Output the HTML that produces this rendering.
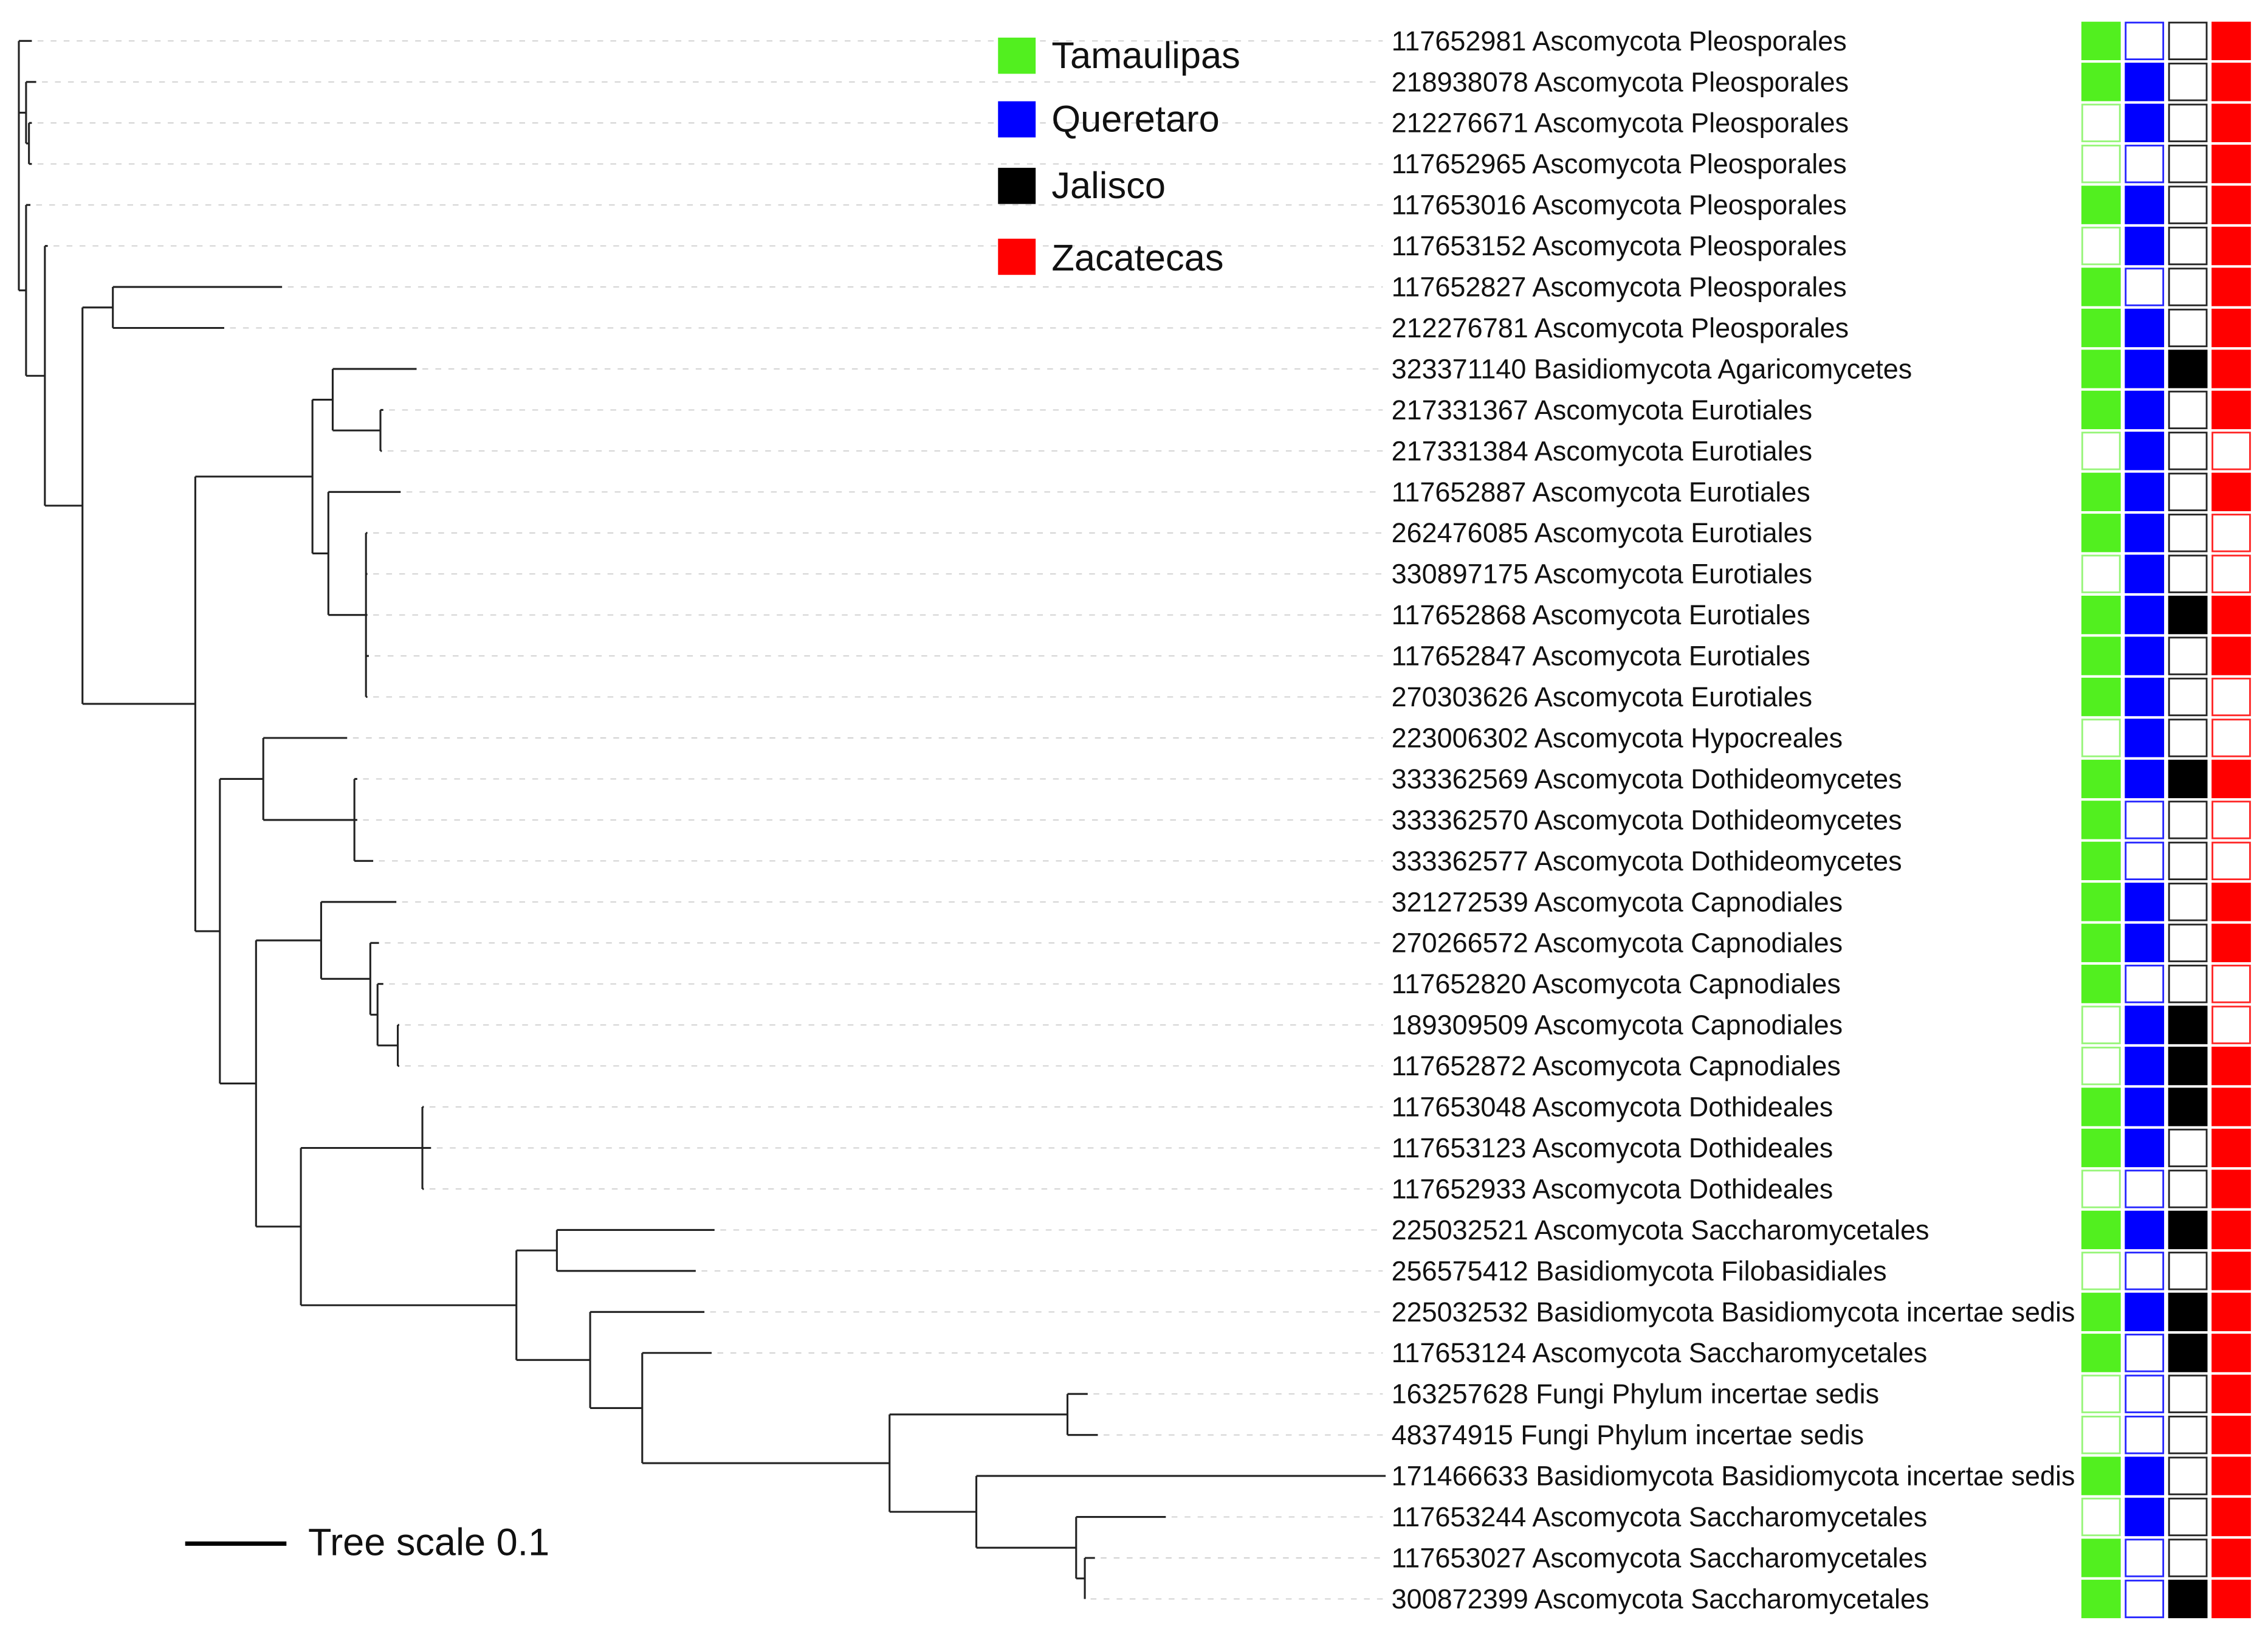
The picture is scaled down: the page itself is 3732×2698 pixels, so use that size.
<!DOCTYPE html>
<html><head><meta charset="utf-8"><style>
html,body{margin:0;padding:0;background:#fff}
svg{display:block}
text{font-family:"Liberation Sans","DejaVu Sans",sans-serif;fill:#111}
</style></head><body>
<svg id="chart" width="3732" height="2698" viewBox="0 0 1568 1133.6" xmlns="http://www.w3.org/2000/svg">
<g id="tree"></g>
<g id="guides"></g>
<g id="labels"></g>
<g id="boxes"></g>
<g>
 <rect x="690" y="26" width="26" height="25" fill="#52ef1f"/>
 <text x="727" y="47" font-size="25.8">Tamaulipas</text>
 <rect x="690" y="70" width="26" height="25" fill="#0000ff"/>
 <text x="727" y="91" font-size="25.8">Queretaro</text>
 <rect x="690" y="116" width="26" height="25" fill="#000"/>
 <text x="727" y="137" font-size="25.8">Jalisco</text>
 <rect x="690" y="165" width="26" height="25" fill="#ff0000"/>
 <text x="727" y="187" font-size="25.8">Zacatecas</text>
</g>
<g>
 <line x1="128" y1="1067" x2="198" y2="1067" stroke="#000" stroke-width="3"/>
 <text x="213" y="1075" font-size="26.5">Tree scale 0.1</text>
</g>
</svg>
<script>
const labels = [
"117652981 Ascomycota Pleosporales","218938078 Ascomycota Pleosporales","212276671 Ascomycota Pleosporales","117652965 Ascomycota Pleosporales","117653016 Ascomycota Pleosporales","117653152 Ascomycota Pleosporales","117652827 Ascomycota Pleosporales","212276781 Ascomycota Pleosporales","323371140 Basidiomycota Agaricomycetes","217331367 Ascomycota Eurotiales","217331384 Ascomycota Eurotiales","117652887 Ascomycota Eurotiales","262476085 Ascomycota Eurotiales","330897175 Ascomycota Eurotiales","117652868 Ascomycota Eurotiales","117652847 Ascomycota Eurotiales","270303626 Ascomycota Eurotiales","223006302 Ascomycota Hypocreales","333362569 Ascomycota Dothideomycetes","333362570 Ascomycota Dothideomycetes","333362577 Ascomycota Dothideomycetes","321272539 Ascomycota Capnodiales","270266572 Ascomycota Capnodiales","117652820 Ascomycota Capnodiales","189309509 Ascomycota Capnodiales","117652872 Ascomycota Capnodiales","117653048 Ascomycota Dothideales","117653123 Ascomycota Dothideales","117652933 Ascomycota Dothideales","225032521 Ascomycota Saccharomycetales","256575412 Basidiomycota Filobasidiales","225032532 Basidiomycota Basidiomycota incertae sedis","117653124 Ascomycota Saccharomycetales","163257628 Fungi Phylum incertae sedis","48374915 Fungi Phylum incertae sedis","171466633 Basidiomycota Basidiomycota incertae sedis","117653244 Ascomycota Saccharomycetales","117653027 Ascomycota Saccharomycetales","300872399 Ascomycota Saccharomycetales"];
const tamaulipas = [1,1,0,0,1,0,1,1,1,1,0,1,1,0,1,1,1,0,1,1,1,1,1,1,0,0,1,1,0,1,0,1,1,0,0,1,0,1,1];
const queretaro  = [0,1,1,0,1,1,0,1,1,1,1,1,1,1,1,1,1,1,1,0,0,1,1,0,1,1,1,1,0,1,0,1,0,0,0,1,1,0,0];
const jalisco    = [0,0,0,0,0,0,0,0,1,0,0,0,0,0,1,0,0,0,1,0,0,0,0,0,1,1,1,0,0,1,0,1,1,0,0,0,0,0,1];
const zacatecas  = [1,1,1,1,1,1,1,1,1,1,0,1,0,0,1,1,0,0,1,0,0,1,1,0,0,1,1,1,1,1,1,1,1,1,1,1,1,1,1];
const L=(x,i)=>({x:x,i:i});
const N=(x,...c)=>({x:x,c:c});
const cA = N(18, L(25,1), N(20, L(22,2), L(22,3)));
const eur1 = N(230, L(288,8), N(263, L(265,9), L(264,10)));
const eur2 = N(227, L(277,11), N(253, L(254,12), L(254,13), L(254,14), L(255,15), L(254,16)));
const eur = N(216, eur1, eur2);
const doth = N(182, L(240,17), N(245, L(247,18), L(247,19), L(258,20)));
const cap = N(222, L(274,21), N(256, L(262,22), N(261, L(265,23), N(275, L(276,24), L(276,25)))));
const dd = N(292, L(293,26), L(298,27), L(293,28));
const sacc = N(738, L(752,33), L(759,34));
const sacc2 = N(675, L(958,35), N(744, L(806,36), N(750, L(757,37), L(750,38))));
const g615 = N(615, sacc, sacc2);
const g444 = N(444, L(492,32), g615);
const g408 = N(408, L(487,31), g444);
const g385 = N(385, L(494,29), L(481,30));
const g357 = N(357, g385, g408);
const g208 = N(208, dd, g357);
const g177 = N(177, cap, g208);
const g152 = N(152, doth, g177);
const g135 = N(135, eur, g152);
const g78 = N(78, L(195,6), L(155,7));
const g57 = N(57, g78, g135);
const g31 = N(31, L(33,5), g57);
const g18b = N(18, L(21,4), g31);
const tree = N(13, L(22,0), cA, g18b);

const NS='http://www.w3.org/2000/svg';
const rowY = i => 28.3 + 28.34*i;
const treeG=document.getElementById('tree'), guideG=document.getElementById('guides'), labG=document.getElementById('labels'), boxG=document.getElementById('boxes');
function line(g,x1,y1,x2,y2,col,w,dash){const l=document.createElementNS(NS,'line');
 l.setAttribute('x1',x1);l.setAttribute('y1',y1);l.setAttribute('x2',x2);l.setAttribute('y2',y2);
 l.setAttribute('stroke',col);l.setAttribute('stroke-width',w);if(dash)l.setAttribute('stroke-dasharray',dash);
 g.appendChild(l);return l;}
function draw(n,px){
 let y;
 if(n.c){const ys=n.c.map(ch=>draw(ch,n.x));const y0=Math.min.apply(null,ys),y1=Math.max.apply(null,ys);y=(y0+y1)/2;
  const v=line(treeG,n.x,y0,n.x,y1,'#222',1.3);
  
  
 } else {y=rowY(n.i);
  if(n.x<950){const gl=line(guideG,n.x+4,y,956,y,'#d0d0d0',0.8,'4 5');
  
  }}
 if(px!==undefined){const h=line(treeG,px,y,n.x,y,'#222',1.3);
  
  }
 return y;}
draw(tree);
const cols=[[tamaulipas,'#52ef1f',1439],[queretaro,'#0000ff',1469],[jalisco,'#000000',1499],[zacatecas,'#ff0000',1529]];
const names=['tamaulipas','queretaro','jalisco','zacatecas'];
labels.forEach((s,i)=>{const y=rowY(i);
 const t=document.createElementNS(NS,'text');t.setAttribute('x',962);t.setAttribute('y',y+6.5);t.setAttribute('font-size','18.9');t.textContent=s;
 
 
 labG.appendChild(t);
 cols.forEach((cd,k)=>{const arr=cd[0],c=cd[1],x=cd[2];const r=document.createElementNS(NS,'rect');
  const f=arr[i];
  r.setAttribute('x',f?x:x+0.6);r.setAttribute('y',f?y-13.3:y-12.7);r.setAttribute('width',f?27.2:26);r.setAttribute('height',f?26.6:25.4);
  r.setAttribute('fill',f?c:'#fff');
  if(!f){r.setAttribute('stroke',c);r.setAttribute('stroke-width',1.2);r.setAttribute('stroke-opacity',k===0?0.6:0.85);}
  
  
  boxG.appendChild(r);});
});
</script>
</body></html>
